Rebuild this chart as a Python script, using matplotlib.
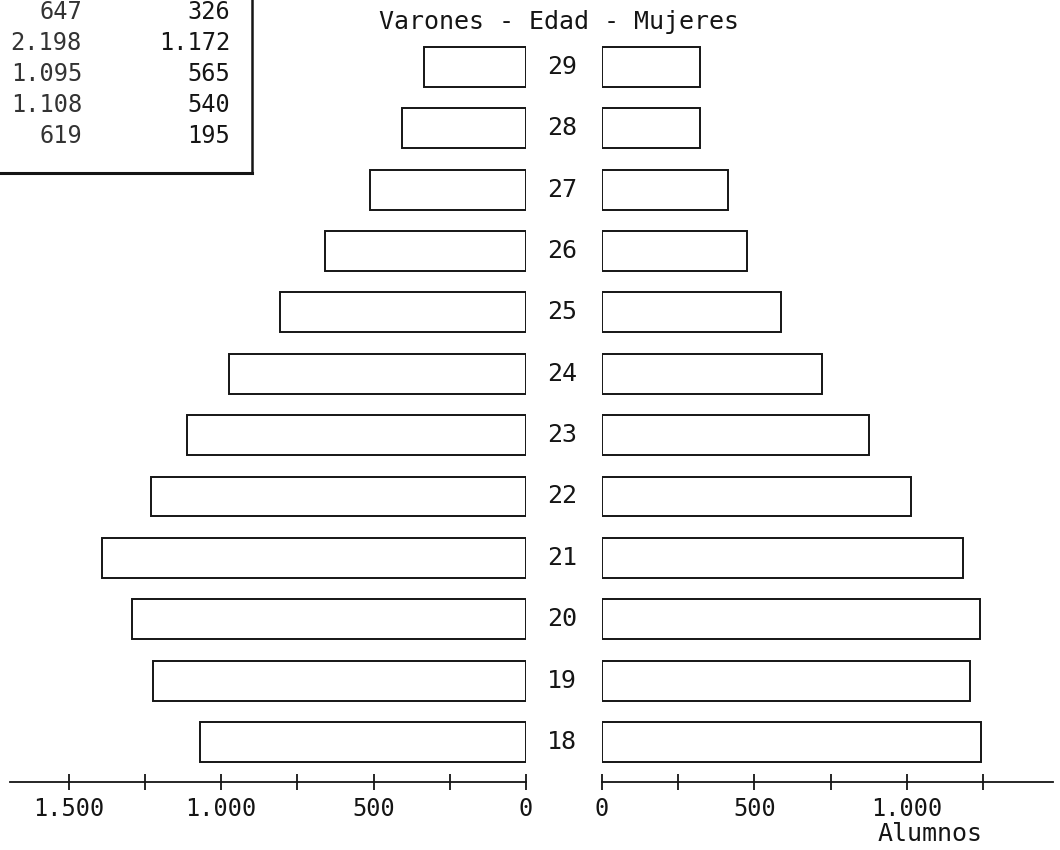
import matplotlib
matplotlib.use("Agg")
import matplotlib.pyplot as plt
from matplotlib.lines import Line2D

plt.rcParams['font.family'] = ['DejaVu Sans Mono', 'DejaVu Sans']

# Data (alumnos por edad)
edades = [18, 19, 20, 21, 22, 23, 24, 25, 26, 27, 28, 29]
varones = [1070, 1224, 1293, 1391, 1230, 1112, 974, 807, 659, 512, 407, 335]
mujeres = [1243, 1207, 1240, 1184, 1014, 876, 722, 587, 476, 413, 322, 322]

ticks_v = [0, 250, 500, 750, 1000, 1250, 1500]
ticks_m = [0, 250, 500, 750, 1000, 1250]
etiquetas = [0, 500, 1000, 1500]

# partial table visible in the top-left corner
tabla_col1 = ["647", "2.198", "1.095", "1.108", "619"]
tabla_col2 = ["326", "1.172", "565", "540", "195"]

INK = "#151515"
W, H = 1060, 850


def fmt(v):
    # 1500 -> "1.500"
    return f"{int(v):,}".replace(",", ".")


def main():
    fig = plt.figure(figsize=(W / 100, H / 100), dpi=100)
    fig.patch.set_facecolor("white")

    px = 0.3048  # pixels per alumno
    bottom = (H - 782) / H
    height = 782 / H
    ax_l = fig.add_axes([10 / W, bottom, (526 - 10) / W, height])
    ax_r = fig.add_axes([602 / W, bottom, (1053 - 602) / W, height])

    rows = list(range(len(edades)))
    ax_l.barh(rows, varones, height=0.65, color="white", edgecolor=INK, linewidth=1.4)
    ax_r.barh(rows, mujeres, height=0.65, color="white", edgecolor=INK, linewidth=1.4)

    ax_l.set_xlim((526 - 10) / px, 0)
    ax_r.set_xlim(0, (1053 - 602) / px)

    for ax, ticks in ((ax_l, ticks_v), (ax_r, ticks_m)):
        ax.set_ylim(-0.652, 12.09)
        ax.set_facecolor("none")
        for s in ("top", "left", "right"):
            ax.spines[s].set_visible(False)
        ax.spines["bottom"].set_color(INK)
        ax.spines["bottom"].set_linewidth(1.3)
        ax.set_yticks([])
        ax.set_xticks(ticks)
        ax.set_xticklabels([fmt(t) if t in etiquetas else "" for t in ticks])
        ax.tick_params(axis="x", direction="inout", length=12, width=1.3,
                       color=INK, labelsize=17, labelcolor=INK, pad=5)

    # age labels between the two halves
    for r, e in zip(rows, edades):
        ax_r.text((562 - 602) / px, r, str(e), ha="center", va="center",
                  fontsize=18, color=INK, clip_on=False)

    fig.text(559 / W, 1 - 22 / H, "Varones - Edad - Mujeres", ha="center",
             va="center", fontsize=18, color=INK)
    fig.text(930 / W, 1 - 834 / H, "Alumnos", ha="center", va="center",
             fontsize=18, color=INK)

    # table fragment
    for i, (a, b) in enumerate(zip(tabla_col1, tabla_col2)):
        y = 1 - (12 + 31 * i) / H
        fig.text(82 / W, y, a, ha="right", va="center", fontsize=17, color="#333333")
        fig.text(230 / W, y, b, ha="right", va="center", fontsize=17, color=INK)
    fig.add_artist(Line2D([252 / W, 252 / W], [1, 1 - 173 / H],
                          transform=fig.transFigure, color=INK, lw=1.8))
    fig.add_artist(Line2D([0, 252 / W], [1 - 173 / H, 1 - 173 / H],
                          transform=fig.transFigure, color=INK, lw=2.2))

    fig.savefig("out.png", dpi=100, facecolor="white")


if __name__ == "__main__":
    main()
